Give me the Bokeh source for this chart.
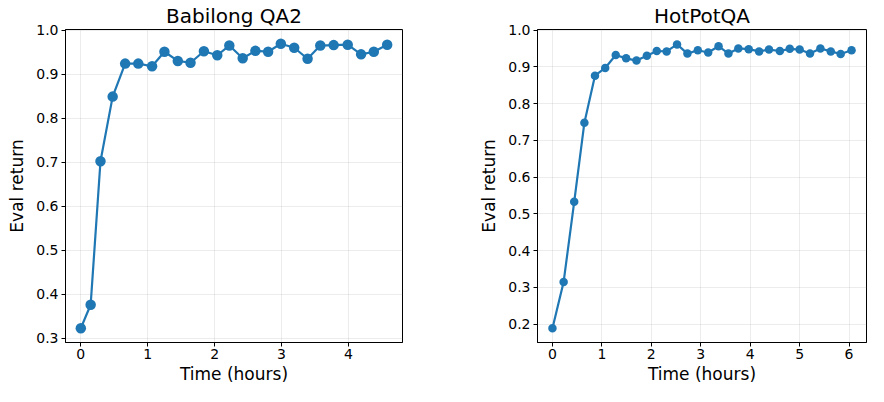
from bokeh.plotting import figure
from bokeh.layouts import row
from bokeh.models import Range1d, FixedTicker, NumeralTickFormatter
from bokeh.embed import file_html
from bokeh.resources import INLINE

# Babilong QA2
babilong_time = [0.0, 0.147, 0.294, 0.476, 0.663, 0.859, 1.065, 1.25, 1.45, 1.64, 1.84, 2.04,
                 2.22, 2.42, 2.61, 2.80, 2.99, 3.19, 3.39, 3.58, 3.78, 3.99, 4.19, 4.38, 4.58]
babilong_return = [0.3225, 0.376, 0.702, 0.849, 0.924, 0.924, 0.918, 0.951, 0.930, 0.926, 0.952,
                   0.943, 0.965, 0.936, 0.953, 0.951, 0.969, 0.960, 0.935, 0.965, 0.966, 0.967,
                   0.945, 0.951, 0.967]
babilong_xticks = [0, 1, 2, 3, 4]
babilong_yticks = [0.3, 0.4, 0.5, 0.6, 0.7, 0.8, 0.9, 1.0]

# HotPotQA
hotpot_time = [0.0, 0.226, 0.44, 0.646, 0.86, 1.067, 1.28, 1.49, 1.70, 1.91, 2.11, 2.31, 2.52,
               2.73, 2.94, 3.15, 3.36, 3.56, 3.76, 3.97, 4.18, 4.38, 4.60, 4.80, 5.00, 5.21,
               5.42, 5.63, 5.83, 6.05]
hotpot_return = [0.189, 0.315, 0.533, 0.748, 0.876, 0.897, 0.932, 0.923, 0.917, 0.930, 0.943,
                 0.942, 0.961, 0.936, 0.945, 0.939, 0.956, 0.936, 0.950, 0.948, 0.942, 0.947,
                 0.943, 0.949, 0.947, 0.936, 0.950, 0.942, 0.935, 0.945]
hotpot_xticks = [0, 1, 2, 3, 4, 5, 6]
hotpot_yticks = [0.2, 0.3, 0.4, 0.5, 0.6, 0.7, 0.8, 0.9, 1.0]

titles = ["Babilong QA2", "HotPotQA"]
x_label = "Time (hours)"
y_label = "Eval return"

BLUE = "#1f77b4"
FONT = "DejaVu Sans"


def padded(vals, frac=0.05, min_hi=None):
    lo, hi = min(vals), max(vals)
    m = (hi - lo) * frac
    end = hi + m
    if min_hi is not None:
        end = max(end, min_hi)
    return Range1d(lo - m, end)


def make(title, xs, ys, xt, yt, width, bl, br, msize):
    p = figure(width=width, height=386, output_backend="svg", toolbar_location=None,
               x_range=padded(xs), y_range=padded(ys, min_hi=yt[-1] + 0.0015),
               min_border_left=bl, min_border_right=br, min_border_top=0, min_border_bottom=0)
    p.title.text = title
    p.title.align = "center"
    p.title.text_font = FONT
    p.title.text_font_size = "20px"
    p.title.text_font_style = "normal"
    p.title.text_color = "black"
    p.title.standoff = 3
    p.title.offset = 0
    p.outline_line_color = "black"
    p.outline_line_width = 1
    p.outline_line_alpha = 1
    for ax, ticks, lab in ((p.xaxis[0], xt, x_label), (p.yaxis[0], yt, y_label)):
        ax.ticker = FixedTicker(ticks=ticks)
        ax.axis_label = lab
        ax.axis_label_text_font = FONT
        ax.axis_label_text_font_size = "17px"
        ax.axis_label_text_font_style = "normal"
        ax.axis_label_text_color = "black"
        ax.axis_label_standoff = 2
        ax.major_label_text_font = FONT
        ax.major_label_text_font_size = "14px"
        ax.major_label_text_color = "black"
        ax.major_label_standoff = 2
        ax.major_tick_in = 0
        ax.major_tick_out = 4
        ax.major_tick_line_color = "black"
        ax.minor_tick_line_color = None
        ax.axis_line_color = "black"
    p.yaxis[0].formatter = NumeralTickFormatter(format="0.0")
    p.xaxis[0].formatter = NumeralTickFormatter(format="0")
    p.yaxis[0].axis_label_standoff = 6
    p.yaxis[0].major_label_standoff = 3
    for g in (p.xgrid[0], p.ygrid[0]):
        g.grid_line_color = "#b0b0b0"
        g.grid_line_alpha = 0.3
        g.grid_line_width = 0.8
    p.line(xs, ys, line_color=BLUE, line_width=2.2)
    p.scatter(xs, ys, size=msize, fill_color=BLUE, line_color=BLUE, line_width=0)
    return p


p1 = make(titles[0], babilong_time, babilong_return, babilong_xticks, babilong_yticks,
          476, 65, 74, 10.5)
p2 = make(titles[1], hotpot_time, hotpot_return, hotpot_xticks, hotpot_yticks,
          392, 58, 2, 8.5)

layout = row(p1, p2)
open("out.html", "w").write(file_html(layout, INLINE))
